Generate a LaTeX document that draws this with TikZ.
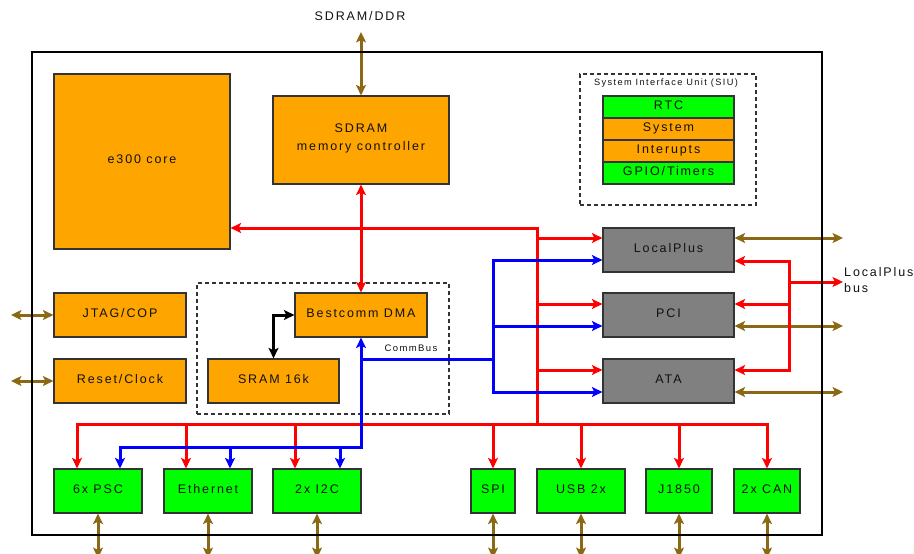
\documentclass[tikz,border=0pt]{standalone}
\usepackage{fontspec}
\setmainfont{Liberation Sans}[LetterSpace=15]
\usetikzlibrary{arrows.meta,calc}
\definecolor{orng}{HTML}{FFA500}
\definecolor{grn}{HTML}{00FF00}
\definecolor{gry}{HTML}{808080}
\definecolor{brn}{HTML}{8B6914}
\definecolor{edgec}{HTML}{333333}
\definecolor{txtc}{HTML}{111111}
\begin{document}
\begin{tikzpicture}[x=1pt,y=-1pt,
  >={Stealth[length=10.5pt,width=10pt,inset=2.5pt]},
  every node/.style={font=\fontsize{12.5}{15}\selectfont, text=txtc},
  one/.style={text height=7pt, text depth=3pt},
  box/.style={draw=edgec, line width=1.2pt, inner sep=0pt},
  ob/.style={box, one, fill=orng},
  gb/.style={box, one, fill=grn},
  yb/.style={box, one, fill=gry},
  dbox/.style={draw=edgec, dash pattern=on 4pt off 3pt, line width=1.1pt, inner sep=0pt},
  rbus/.style={draw=red, line width=3pt},
  bbus/.style={draw=blue, line width=3pt},
  kbus/.style={draw=black, line width=3pt},
  brw/.style={draw=brn, line width=3pt, <->}
]
\useasboundingbox (0,0) rectangle (914,554);

% dashed groups
\node[dbox, minimum width=176pt, minimum height=131pt] (siu) at (668,139.5) {};
\node[dbox, minimum width=252pt, minimum height=131pt] (cbus) at (323,348.5) {};

% blocks
\node[ob, minimum width=176pt, minimum height=175pt] (e300) at (142,161.5) {e300 core};
\node[box, fill=orng, align=center, minimum width=176pt, minimum height=88pt,
      font=\fontsize{12.5}{18}\selectfont] (mc) at (361,140) {SDRAM\\memory controller\rule[-6.5pt]{0pt}{0pt}};

\node[gb, minimum width=131pt, minimum height=22pt] (rtc) at (668.5,107) {RTC};
\node[ob, minimum width=131pt, minimum height=22pt] (sys) at (668.5,129) {System};
\node[ob, minimum width=131pt, minimum height=22pt] (irq) at (668.5,151) {Interupts};
\node[gb, minimum width=131pt, minimum height=22pt] (gpio) at (668.5,173) {GPIO/Timers};

\node[yb, minimum width=131pt, minimum height=44pt] (lp) at (668.5,250) {LocalPlus};
\node[yb, minimum width=131pt, minimum height=44pt] (pci) at (668.5,315) {PCI};
\node[yb, minimum width=131pt, minimum height=44pt] (ata) at (668.5,381) {ATA};

\node[ob, minimum width=132pt, minimum height=44pt] (jtag) at (120,315) {JTAG/COP};
\node[ob, minimum width=132pt, minimum height=44pt] (rst) at (120,381) {Reset/Clock};
\node[ob, minimum width=132pt, minimum height=44pt] (dma) at (361,315) {Bestcomm DMA};
\node[ob, minimum width=131pt, minimum height=44pt] (sram) at (273.5,381) {SRAM 16k};

\node[gb, minimum width=88pt, minimum height=44pt] (psc) at (98,491) {6x PSC};
\node[gb, minimum width=88pt, minimum height=44pt] (eth) at (208,491) {Ethernet};
\node[gb, minimum width=88pt, minimum height=44pt] (i2c) at (317,491) {2x I2C};
\node[gb, minimum width=44pt, minimum height=44pt] (spi) at (493,491) {SPI};
\node[gb, minimum width=88pt, minimum height=44pt] (usb) at (581,491) {USB 2x};
\node[gb, minimum width=66pt, minimum height=44pt] (j1850) at (679,491) {J1850};
\node[gb, minimum width=66pt, minimum height=44pt] (can) at (767,491) {2x CAN};

% labels
\node[one] (ddr) at (360,18.5) {SDRAM/DDR};
\node[font=\fontsize{9.5}{11}\selectfont] (cbl) at (411,348) {CommBus};
\node[font=\fontsize{9.2}{11}\selectfont] (siul) at (666,83) {System Interface Unit (SIU)};
\node[anchor=west, align=left, inner sep=0pt, font=\fontsize{12.5}{16}\selectfont] (lpbus) at (844,280) {LocalPlus\\bus};

% helper coordinates
\coordinate (ddrend) at (361,32);
\coordinate (rj) at (537,228);
\coordinate (rb) at (537,424);
\coordinate (rr) at (789,282);
\coordinate (lpbusend) at (843,282);
\coordinate (rend) at (843,0);
\coordinate (lend) at (11,0);
\coordinate (bot) at (0,558);
\coordinate (bj) at (361,447);
\coordinate (bm) at (493,359);

\coordinate (lpA) at ($(lp.west)+(0,-12)$);
\coordinate (lpB) at ($(lp.west)+(0,10)$);
\coordinate (pcA) at ($(pci.west)+(0,-11)$);
\coordinate (pcB) at ($(pci.west)+(0,11)$);
\coordinate (atA) at ($(ata.west)+(0,-11)$);
\coordinate (atB) at ($(ata.west)+(0,11)$);
\coordinate (lpC) at ($(lp.east)+(0,-12)$);
\coordinate (lpD) at ($(lp.east)+(0,11)$);
\coordinate (pcC) at ($(pci.east)+(0,-11)$);
\coordinate (pcD) at ($(pci.east)+(0,11)$);
\coordinate (atC) at ($(ata.east)+(0,-11)$);
\coordinate (atD) at ($(ata.east)+(0,11)$);

\coordinate (pscA) at ($(psc.north)+(-21,0)$);
\coordinate (pscB) at ($(psc.north)+(22,0)$);
\coordinate (ethA) at ($(eth.north)+(-22,0)$);
\coordinate (ethB) at ($(eth.north)+(22,0)$);
\coordinate (i2cA) at ($(i2c.north)+(-22,0)$);
\coordinate (i2cB) at ($(i2c.north)+(23,0)$);

% brown external buses
\draw[brw] (ddrend) -- (mc.north);
\draw[brw] (jtag.west) -- (lend |- jtag.west);
\draw[brw] (rst.west) -- (lend |- rst.west);
\draw[brw] (lpC) -- (rend |- lpC);
\draw[brw] (pcD) -- (rend |- pcD);
\draw[brw] (atD) -- (rend |- atD);
\foreach \n in {psc,eth,i2c,spi,usb,j1850,can}
  \draw[brw] (\n.south) -- (\n.south |- bot);

% red bus
\draw[rbus,<->] (mc.south) -- (dma.north);
\draw[rbus,->] (rb) -- (rj) -- (e300.east |- rj);
\draw[rbus,->] (rj |- lpA) -- (lpA);
\draw[rbus,->] (rj |- pcA) -- (pcA);
\draw[rbus,->] (rj |- atA) -- (atA);
\draw[rbus,<->] (pscA) -- (pscA |- rb) -- (can.north |- rb) -- (can.north);
\draw[rbus,->] (ethA |- rb) -- (ethA);
\draw[rbus,->] (i2cA |- rb) -- (i2cA);
\draw[rbus,->] (spi.north |- rb) -- (spi.north);
\draw[rbus,->] (usb.north |- rb) -- (usb.north);
\draw[rbus,->] (j1850.north |- rb) -- (j1850.north);
\draw[rbus,<->] (lpD) -- (rr |- lpD) -- (rr |- atC) -- (atC);
\draw[rbus,->] (rr |- pcC) -- (pcC);
\draw[rbus,->] (rr) -- (lpbusend);

% blue CommBus
\draw[bbus,<->] (dma.south) -- (dma.south |- bj) -- (pscB |- bj) -- (pscB);
\draw[bbus,->] (ethB |- bj) -- (ethB);
\draw[bbus,->] (i2cB |- bj) -- (i2cB);
\draw[bbus] (dma.south |- bm) -- (bm);
\draw[bbus,<->] (lpB) -- (bm |- lpB) -- (bm |- atB) -- (atB);
\draw[bbus,->] (bm |- pcB) -- (pcB);

% black SRAM link
\draw[kbus,<->] (sram.north) |- (dma.west);

% chip outline (on top of the buses crossing it)
\node[draw=black, line width=2pt, inner sep=0pt, minimum width=790pt, minimum height=483pt] (chip) at (427,293.5) {};
\end{tikzpicture}
\end{document}
